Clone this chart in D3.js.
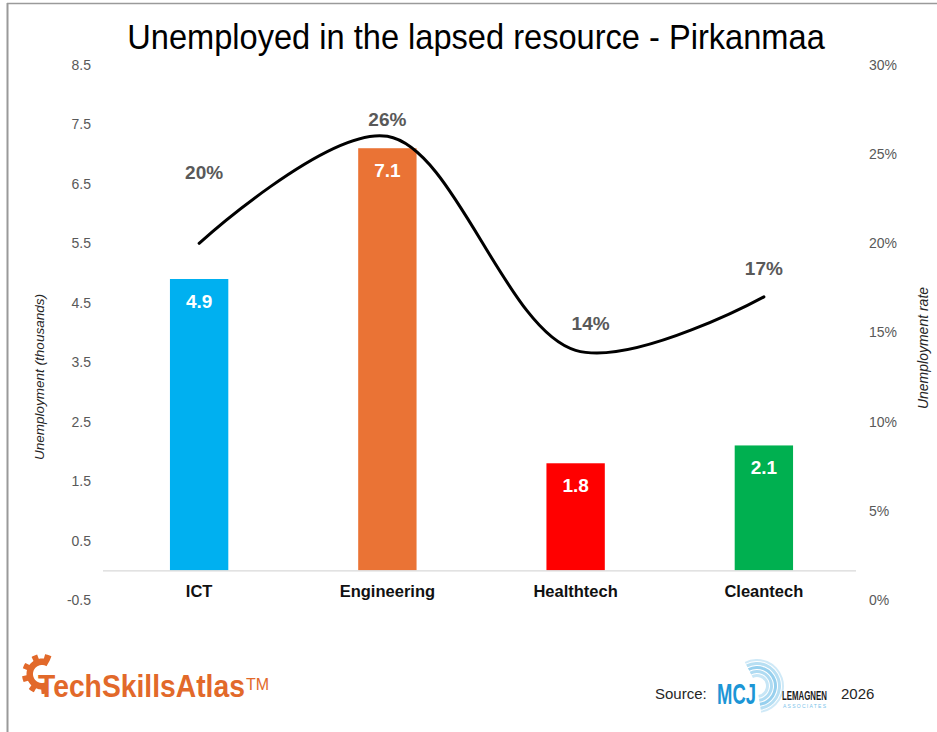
<!DOCTYPE html>
<html>
<head>
<meta charset="utf-8">
<script src="https://cdn.jsdelivr.net/npm/d3@7/dist/d3.min.js"></script>
<style>
  html, body { margin: 0; padding: 0; background: #fff; }
  svg { display: block; }
  text { font-family: "Liberation Sans", Arial, sans-serif; }
</style>
</head>
<body>
<svg id="chart" width="937" height="732"></svg>
<script>
// Unemployed (thousands) and unemployment rate by sector, Pirkanmaa
const categories = ["ICT", "Engineering", "Healthtech", "Cleantech"];
const unemployed = [4.9, 7.1, 1.8, 2.1];          // thousands
const unemploymentRate = [0.20, 0.26, 0.14, 0.17]; // share
const barColors = ["#00b0f0", "#ea7335", "#ff0000", "#00b050"];
const leftTicks = [-0.5, 0.5, 1.5, 2.5, 3.5, 4.5, 5.5, 6.5, 7.5, 8.5];
const rightTicks = [0, 0.05, 0.10, 0.15, 0.20, 0.25, 0.30];

const svg = d3.select("#chart");
const W = 937, H = 732;
const plot = { left: 105, right: 858, top: 65, bottom: 600 };

// frame lines along the top and left edge
svg.append("line").attr("x1", 7.5).attr("x2", 7.5).attr("y1", 3).attr("y2", H)
  .attr("stroke", "#9a9a9a").attr("stroke-width", 2);
svg.append("line").attr("x1", 7).attr("x2", W).attr("y1", 3.5).attr("y2", 3.5)
  .attr("stroke", "#9a9a9a").attr("stroke-width", 1.5);

// horizontally condensed text (stands in for a narrow typeface)
function narrowText(parent, str, x, y, size, targetWidth, attrs) {
  const g = parent.append("g");
  const t = g.append("text").style("font-size", size + "px").text(str);
  Object.entries(attrs || {}).forEach(([k, v]) => t.style(k, v));
  const w = t.node().getComputedTextLength();
  const sx = targetWidth / w;
  const anchor = (attrs && attrs["text-anchor"]) || "start";
  t.attr("text-anchor", anchor);
  g.attr("transform", `translate(${x},${y}) scale(${sx},1)`);
  return t;
}

// title
narrowText(svg, "Unemployed in the lapsed resource - Pirkanmaa", 476, 49, 36, 698,
  { "text-anchor": "middle", fill: "#000" });

// scales
const x = d3.scaleBand().domain(categories)
  .range([plot.left, plot.right]).paddingInner(0.69).paddingOuter(0.345);
const yL = d3.scaleLinear().domain([-0.5, 8.5]).range([plot.bottom, plot.top]);
const yR = d3.scaleLinear().domain([0, 0.30]).range([plot.bottom, plot.top]);

// left axis
const fmtL = d => d3.format(".1f")(d).replace("\u2212", "-");
const axL = svg.append("g").attr("transform", `translate(${plot.left - 14},0)`)
  .call(d3.axisLeft(yL).tickValues(leftTicks).tickSize(0).tickPadding(0).tickFormat(fmtL));
axL.select(".domain").remove();
axL.selectAll("text").style("font-size", "14px").attr("fill", "#595959")
  .style("font-family", "'Liberation Sans', Arial, sans-serif");

// right axis
const axR = svg.append("g").attr("transform", `translate(${plot.right + 11},0)`)
  .call(d3.axisRight(yR).tickValues(rightTicks).tickSize(0).tickPadding(0).tickFormat(d3.format(".0%")));
axR.select(".domain").remove();
axR.selectAll("text").style("font-size", "14px").attr("fill", "#595959")
  .style("font-family", "'Liberation Sans', Arial, sans-serif");

// axis titles
svg.append("text")
  .attr("transform", `translate(44,${377}) rotate(-90)`)
  .attr("text-anchor", "middle")
  .style("font-size", "13.5px").style("font-style", "italic")
  .attr("fill", "#262626")
  .text("Unemployment (thousands)");
svg.append("text")
  .attr("transform", `translate(928,${348}) rotate(-90)`)
  .attr("text-anchor", "middle")
  .style("font-size", "14px").style("font-style", "italic")
  .attr("fill", "#262626")
  .text("Unemployment rate");

// bars
svg.append("g").selectAll("rect").data(categories).join("rect")
  .attr("x", d => x(d))
  .attr("width", x.bandwidth())
  .attr("y", (d, i) => yL(unemployed[i]))
  .attr("height", (d, i) => yL(0) - yL(unemployed[i]))
  .attr("fill", (d, i) => barColors[i]);

// baseline
svg.append("line")
  .attr("x1", plot.left - 2).attr("x2", plot.right - 2)
  .attr("y1", yL(0) + 0.5).attr("y2", yL(0) + 0.5)
  .attr("stroke", "#d9d9d9").attr("stroke-width", 1.2);

// bar value labels
svg.append("g").selectAll("text").data(categories).join("text")
  .attr("x", d => x(d) + x.bandwidth() / 2)
  .attr("y", (d, i) => yL(unemployed[i]) + 29)
  .attr("text-anchor", "middle")
  .style("font-size", "19px").style("font-weight", "bold")
  .attr("fill", "#fff")
  .text((d, i) => unemployed[i].toFixed(1));

// category labels
svg.append("g").selectAll("text").data(categories).join("text")
  .attr("x", d => x(d) + x.bandwidth() / 2)
  .attr("y", 597)
  .attr("text-anchor", "middle")
  .style("font-size", "16.5px").style("font-weight", "bold")
  .attr("fill", "#111")
  .text(d => d);

// rate line
const line = d3.line()
  .x((d, i) => x(categories[i]) + x.bandwidth() / 2)
  .y(d => yR(d))
  .curve(d3.curveCatmullRom.alpha(0.5));
svg.append("path").datum(unemploymentRate)
  .attr("d", line)
  .attr("fill", "none").attr("stroke", "#000").attr("stroke-width", 3)
  .attr("stroke-linecap", "round");

// rate labels, lifted clear of the curve
const rateLabelShift = { ICT: [5, -44], Engineering: [0, 10], Healthtech: [15, 0], Cleantech: [0, -2] };
svg.append("g").selectAll("text").data(categories).join("text")
  .attr("x", d => x(d) + x.bandwidth() / 2 + rateLabelShift[d][0])
  .attr("y", (d, i) => yR(unemploymentRate[i]) - 20 + rateLabelShift[d][1])
  .attr("text-anchor", "middle")
  .style("font-size", "19px").style("font-weight", "bold")
  .attr("fill", "#595959")
  .text((d, i) => d3.format(".0%")(unemploymentRate[i]));

// ---- TechSkillsAtlas logo ----
const orange = "#e2692a";
const logo = svg.append("g");
(function gear(cx, cy) {
  const rOut = 20, rRoot = 15.5, rIn = 9;
  const a0 = 70 * Math.PI / 180, a1 = 300 * Math.PI / 180;
  const teeth = 6, toothHalf = 0.17;
  const pts = [];
  const n = 120;
  for (let k = 0; k <= n; k++) {
    const a = a0 + (a1 - a0) * k / n;
    let r = rRoot;
    for (let t = 0; t < teeth; t++) {
      const ac = a0 + 0.2 + t * ((a1 - a0 - 0.4) / (teeth - 1));
      if (Math.abs(a - ac) < toothHalf) r = rOut;
    }
    pts.push([cx + r * Math.cos(a), cy + r * Math.sin(a)]);
  }
  for (let k = n; k >= 0; k--) {
    const a = a0 + (a1 - a0) * k / n;
    pts.push([cx + rIn * Math.cos(a), cy + rIn * Math.sin(a)]);
  }
  logo.append("path").attr("d", "M" + pts.map(p => p.join(",")).join("L") + "Z").attr("fill", orange);
})(42, 674);
narrowText(logo, "TechSkillsAtlas", 38, 697, 31, 207, { "font-weight": "bold", fill: orange });
logo.append("text")
  .attr("x", 246).attr("y", 690)
  .style("font-size", "16px")
  .attr("fill", orange)
  .text("TM");

// ---- source line ----
svg.append("text").attr("x", 655).attr("y", 699)
  .style("font-size", "15px").attr("fill", "#262626").text("Source:");
const mcj = svg.append("g");
const arc = d3.arc();
[[9, 12, 0.35], [13, 16, 0.5], [17, 20, 0.65], [21, 24, 0.45], [25, 27, 0.3]].forEach(([r0, r1, op]) => {
  mcj.append("path")
    .attr("transform", "translate(757,686)")
    .attr("d", arc({ innerRadius: r0, outerRadius: r1, startAngle: -0.15 * Math.PI, endAngle: 0.95 * Math.PI }))
    .attr("fill", "#5fb7e5").attr("opacity", op);
});
narrowText(mcj, "MCJ", 717, 704, 29, 39, { "font-weight": "bold", fill: "#1c96d6" });
narrowText(mcj, "LEMAGNEN", 782, 700, 13, 45, { "font-weight": "bold", fill: "#1a1a1a" });
mcj.append("text").attr("x", 783).attr("y", 708)
  .style("font-size", "5px")
  .attr("fill", "#7cc3ea")
  .attr("textLength", 43).attr("lengthAdjust", "spacing")
  .text("ASSOCIATES");
svg.append("text").attr("x", 841).attr("y", 699)
  .style("font-size", "15px").attr("fill", "#262626").text("2026");
</script>
</body>
</html>
